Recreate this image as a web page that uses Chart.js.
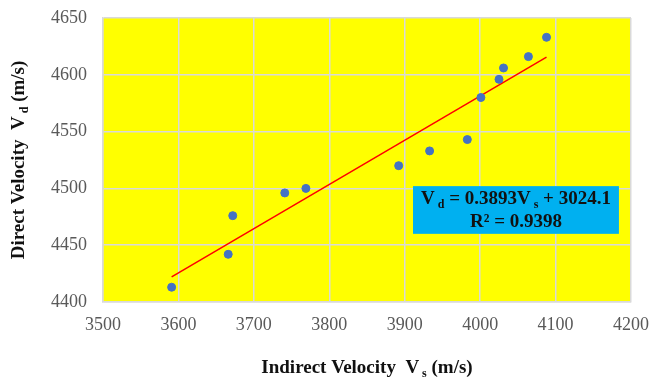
<!DOCTYPE html>
<html>
<head>
<meta charset="utf-8">
<script src="https://cdn.jsdelivr.net/npm/chart.js@4"></script>
<style>
  html, body { margin: 0; padding: 0; background: #fff; }
  #wrap { width: 652px; height: 380px; }
</style>
</head>
<body>
<div id="wrap"><canvas id="chart"></canvas></div>
<script>
// data
const indirectVs = [3591, 3666, 3672, 3741, 3769, 3892, 3933, 3983, 4001, 4025, 4031, 4064, 4088]
const directVd   = [4413, 4442, 4476, 4496, 4500, 4520, 4533, 4543, 4580, 4596, 4606, 4616, 4633]
const slope = 0.3893
const intercept = 3024.1
const r2 = '0.9398'
const xRange = [3500, 4200, 100]
const yRange = [4400, 4650, 50]
const boxCorners = [3911, 4184, 4502, 4460] // x1, x2, y-top, y-bottom in data units

const points = indirectVs.map((x, i) => ({x: x, y: directVd[i]}))
const xMin = Math.min(...indirectVs), xMax = Math.max(...indirectVs)
const trend = [xMin, xMax].map(x => ({x: x, y: slope * x + intercept}))

const serif = "'Liberation Serif', 'Times New Roman', serif"

// draw text made of parts, some of them subscript
function drawRich(ctx, parts, cx, cy, size) {
  const fontFor = p => 'bold ' + (p.sub ? Math.round(size * 0.62) : size) + 'px ' + serif
  let total = 0
  parts.forEach(p => { ctx.font = fontFor(p); p.w = ctx.measureText(p.t).width; total += p.w })
  let x = cx - total / 2
  ctx.textAlign = 'left'
  ctx.textBaseline = 'middle'
  parts.forEach(p => {
    ctx.font = fontFor(p)
    ctx.fillText(p.t, x, p.sub ? cy + size * 0.3 : cy)
    x += p.w
  })
}

const decor = {
  id: 'decor',
  beforeDraw(chart) {
    const {ctx, chartArea: a} = chart
    ctx.save()
    ctx.fillStyle = '#ffff00'
    ctx.fillRect(a.left, a.top, a.right - a.left, a.bottom - a.top)
    ctx.restore()
  },
  afterDraw(chart) {
    const {ctx, chartArea: a, scales} = chart
    ctx.save()
    ctx.fillStyle = '#111'
    // x axis title
    drawRich(ctx, [{t: 'Indirect Velocity  V'}, {t: ' s', sub: true}, {t: ' (m/s)'}],
      (a.left + a.right) / 2, 368, 19)
    // y axis title
    ctx.save()
    ctx.translate(19, (a.top + a.bottom) / 2)
    ctx.rotate(-Math.PI / 2)
    drawRich(ctx, [{t: 'Direct Velocity  V'}, {t: ' d', sub: true}, {t: ' (m/s)'}], 0, 0, 19)
    ctx.restore()
    // equation box
    const x1 = scales.x.getPixelForValue(boxCorners[0])
    const x2 = scales.x.getPixelForValue(boxCorners[1])
    const y1 = scales.y.getPixelForValue(boxCorners[2])
    const y2 = scales.y.getPixelForValue(boxCorners[3])
    ctx.fillStyle = '#00b0f0'
    ctx.fillRect(x1, y1, x2 - x1, y2 - y1)
    ctx.fillStyle = '#111'
    const cx = (x1 + x2) / 2
    drawRich(ctx, [{t: 'V'}, {t: ' d', sub: true}, {t: ' = ' + slope + 'V'}, {t: ' s', sub: true},
      {t: ' + ' + intercept}], cx, y1 + 13, 19)
    drawRich(ctx, [{t: 'R² = ' + r2}], cx, y1 + 36, 19)
    ctx.restore()
  }
}

const tickFont = {family: serif, size: 18}

new Chart(document.getElementById('chart'), {
  type: 'scatter',
  data: {
    datasets: [
      {
        label: 'Vd',
        data: points,
        backgroundColor: '#4472c4',
        borderColor: '#4472c4',
        pointRadius: 4,
        pointHoverRadius: 4,
        order: 1
      },
      {
        label: 'trend',
        type: 'line',
        data: trend,
        borderColor: '#ff0000',
        borderWidth: 1.5,
        pointRadius: 0,
        fill: false,
        order: 2
      }
    ]
  },
  options: {
    responsive: true,
    maintainAspectRatio: false,
    animation: false,
    layout: {padding: {top: 18, right: 21, left: 0, bottom: 0}},
    plugins: {legend: {display: false}, tooltip: {enabled: false}},
    scales: {
      x: {
        type: 'linear',
        min: xRange[0], max: xRange[1],
        ticks: {stepSize: xRange[2], font: tickFont, color: '#595959', padding: 12, callback: v => String(v)},
        grid: {color: '#d9d9d9', lineWidth: 1.5, drawTicks: false},
        border: {color: '#d9d9d9', width: 1.5},
        afterFit: s => { s.height = 78; s.paddingLeft = 0; s.paddingRight = 0 }
      },
      y: {
        min: yRange[0], max: yRange[1],
        ticks: {stepSize: yRange[2], font: tickFont, color: '#595959', padding: 16, callback: v => String(v)},
        grid: {color: '#d9d9d9', lineWidth: 1.5, drawTicks: false},
        border: {color: '#d9d9d9', width: 1.5},
        afterFit: s => { s.width = 103; s.paddingTop = 0; s.paddingBottom = 0 }
      }
    }
  },
  plugins: [decor]
})
</script>
</body>
</html>
